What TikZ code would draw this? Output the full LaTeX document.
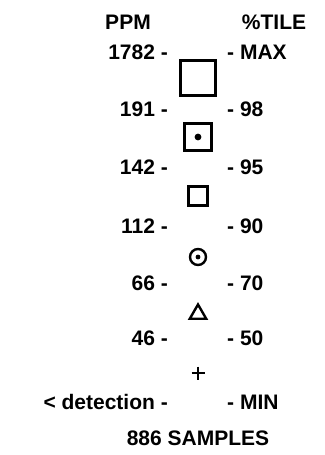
\documentclass[tikz,border=0pt]{standalone}
\usepackage{fontspec}
\setmainfont{Liberation Sans}
\usetikzlibrary{shapes.geometric}

\begin{document}
\begin{tikzpicture}[x=1pt,y=-1pt,
  txt/.style={font=\fontsize{21}{24}\selectfont\bfseries, inner sep=0pt},
  ppm/.style={txt, anchor=east},
  pct/.style={txt, anchor=west},
  sym/.style={draw, line width=2.4pt, inner sep=0pt},
]
\useasboundingbox (0,0) rectangle (324,455);
% column headers
\node[txt] (hppm) at (128,22) {PPM};
\node[txt] (hpct) at (274,22) {\%TILE};
% class limits
\node[ppm] (p1) at (168,52) {1782 -};
\node[pct] (q1) at (227,52) {- MAX};
\node[ppm] (p2) at (168,109) {191 -};
\node[pct] (q2) at (227,109) {- 98};
\node[ppm] (p3) at (168,167) {142 -};
\node[pct] (q3) at (227,167) {- 95};
\node[ppm] (p4) at (168,226) {112 -};
\node[pct] (q4) at (227,226) {- 90};
\node[ppm] (p5) at (168,283) {66 -};
\node[pct] (q5) at (227,283) {- 70};
\node[ppm] (p6) at (168,338) {46 -};
\node[pct] (q6) at (227,338) {- 50};
\node[ppm] (p7) at (168,402) {< detection -};
\node[pct] (q7) at (227,402) {- MIN};
% symbols
\node[sym, rectangle, minimum size=35pt] (s1) at (198,78) {};
\node[sym, rectangle, minimum size=27pt] (s2) at (198,137) {};
\fill (s2.center) circle (3.4pt);
\node[sym, rectangle, minimum size=19pt] (s3) at (198,196) {};
\node[sym, circle, minimum size=16pt] (s4) at (198,257) {};
\fill (s4.center) circle (2.4pt);
\node[sym, regular polygon, regular polygon sides=3, minimum size=19pt] (s5) at (198,314) {};
\draw[line width=2.6pt] (191.5,373) -- (204.5,373) (198,366.5) -- (198,379.5);
\node[txt] (n) at (198,438) {886 SAMPLES};
\end{tikzpicture}
\end{document}
